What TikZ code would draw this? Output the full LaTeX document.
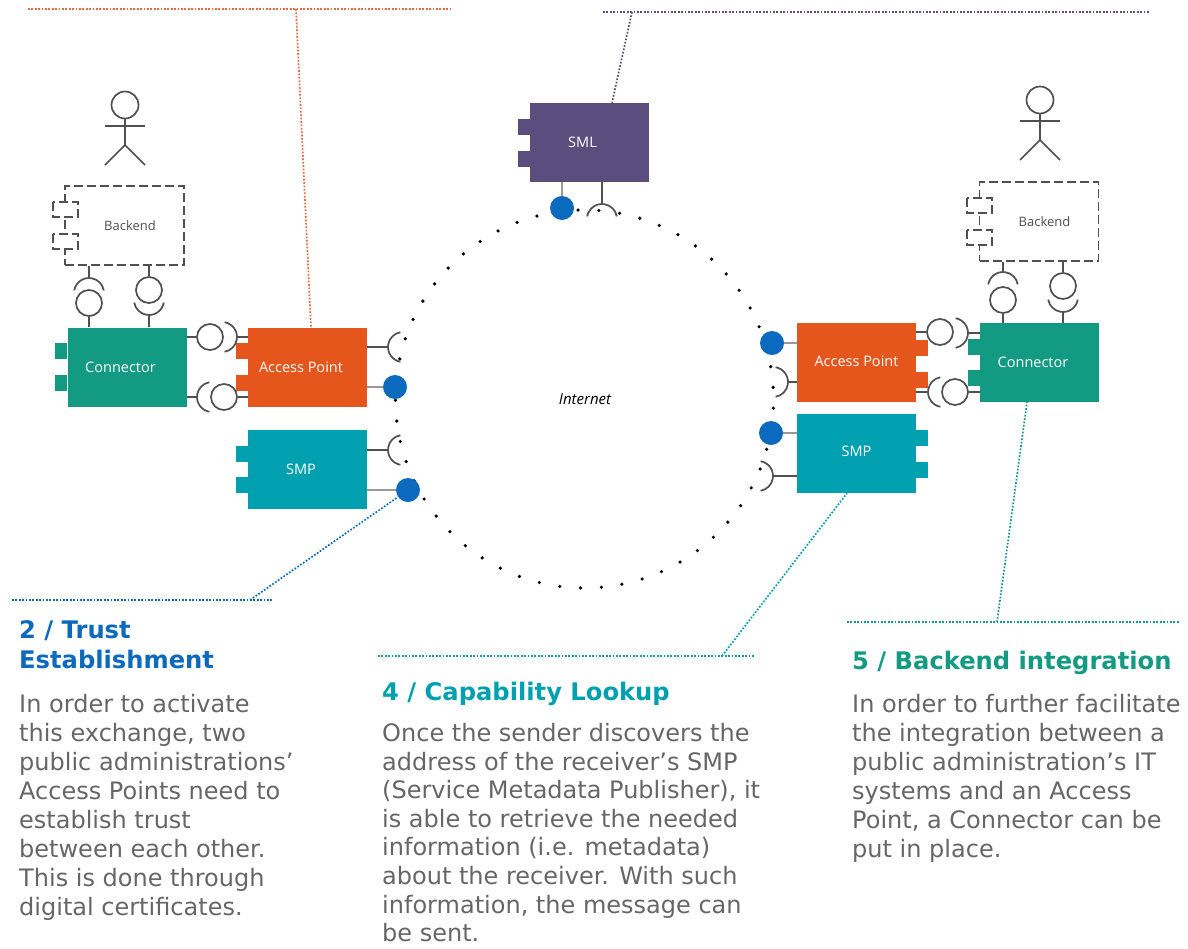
\documentclass[tikz,border=0pt]{standalone}
\usepackage{fontspec}
\setmainfont{DejaVu Sans}
\newfontfamily\labelfont{Open Sans}
\definecolor{greenc}{HTML}{129B82}
\definecolor{orangec}{HTML}{E4561C}
\definecolor{tealc}{HTML}{00A0B0}
\definecolor{purplec}{HTML}{5B4E7E}
\definecolor{bluec}{HTML}{0B6ABE}
\definecolor{redc}{HTML}{F0653C}
\definecolor{bodyc}{HTML}{666666}
\definecolor{wirec}{HTML}{505050}
\tikzset{
 comp/.style={minimum width=119,minimum height=79,inner sep=0,text=white,font=\labelfont\fontsize{14.5}{16}\selectfont},
 textleft/.style={execute at end node=\hspace{13pt}},
 backend/.style={draw=wirec,line width=1.5,dash pattern=on 9pt off 4pt,minimum width=119,minimum height=79,inner sep=0,text=wirec,font=\labelfont\fontsize{13}{14}\selectfont,execute at begin node=\hspace{11pt}},
 wire/.style={wirec,line width=1.7},
 stem/.style={black!40,line width=1.2},
 ball/.style={circle,draw=wirec,fill=white,line width=1.7,minimum size=26,inner sep=0},
 port/.style={circle,fill=bluec,minimum size=24,inner sep=0},
 dotline/.style={line width=1.7,dash pattern=on 1.7pt off 1.7pt},
 head/.style={anchor=north west,inner sep=0,align=left,font=\bfseries\fontsize{24.2}{30}\selectfont},
 body/.style={anchor=north west,inner sep=0,align=left,text=bodyc,font=\fontsize{24}{29}\selectfont},
}
\begin{document}
\begin{tikzpicture}[x=1pt,y=-1pt]
\useasboundingbox (0,0) rectangle (1188,948);
% ring
\foreach \k in {0,...,56} {
 \fill[black] (584.5,399) ++({91.2+\k*6.316}:189) circle (1.8pt);
}
\node[inner sep=0,font=\labelfont\itshape\fontsize{15}{16}\selectfont] (internet) at (585,399) {Internet};
% tabs
\foreach \x/\y/\c in {55/343/greenc, 55/375/greenc, 236/343/orangec, 236/375/orangec, 236/446/tealc, 236/477/tealc,
 518/119/purplec, 518/151/purplec, 916/340/orangec, 916/372/orangec, 916/430/tealc, 916/462/tealc, 968/339/greenc, 968/370/greenc} {
 \fill[\c] (\x,\y) rectangle ++(12,16);
}
% components
\node[comp,textleft,fill=greenc] (conl) at (127,367) {Connector};
\node[comp,textleft,fill=orangec] (apl) at (307.5,367) {Access Point};
\node[comp,textleft,fill=tealc] (smpl) at (307.5,469) {SMP};
\node[comp,textleft,fill=purplec] (sml) at (589,142.5) {SML};
\node[comp,fill=orangec] (apr) at (856.5,362.5) {\raisebox{2pt}{Access Point}};
\node[comp,fill=tealc] (smpr) at (856.5,453.5) {\raisebox{4pt}{SMP}};
\node[comp,textleft,fill=greenc] (conr) at (1039.5,362.5) {Connector};
% backends
\node[backend] (bel) at (124.5,225.5) {Backend};
\node[backend] (ber) at (1039,221.5) {Backend};
\foreach \x/\y in {53/202, 53/234, 967/198, 967/230} {
 \draw[wirec,line width=1.5,dash pattern=on 9pt off 4pt,fill=white] (\x,\y) rectangle ++(25,15);
}
% actors
\foreach \x/\y in {125/105, 1040/100} {
 \draw[wire] (\x,\y) circle (13.5pt);
 \draw[wire] (\x-20,\y+21) --++(40,0);
 \draw[wire] (\x,\y+13.5) --++(0,26.5) --++(-20,20);
 \draw[wire] (\x,\y+40) --++(20,20);
}
% sockets
\foreach \n/\x/\y/\a in {a/89/278/-90, b/149/315/90, c/237/337/0, d/197/397/180, e/388/347/180, f/388/450/180, g/602/204/-90,
 h/788/382/0, i/773/476/0, j/968/333/0, k/928/392/180, l/1003/272/-90, m/1063/312/90} {
 \coordinate (sk\n) at (\x,\y);
 \draw[wire] (sk\n) ++(\a+180:15) ++(\a-80:15) arc[start angle=\a-80,end angle=\a+80,radius=15];
}
% interfaces
\node[ball] (b1) at (89,303) {};
\node[ball] (b2) at (149,290) {};
\node[ball] (b3) at (210,337) {};
\node[ball] (b4) at (224,397) {};
\node[ball] (b5) at (940,332) {};
\node[ball] (b6) at (955,392) {};
\node[ball] (b7) at (1003,300) {};
\node[ball] (b8) at (1063,286) {};
\draw[wire] (bel.south -| ska) -- (ska);
\draw[wire] (b1) -- (conl.north -| b1);
\draw[wire] (bel.south -| b2) -- (b2);
\draw[wire] (skb) -- (conl.north -| skb);
\draw[wire] (conl.east |- b3) -- (b3);
\draw[wire] (skc) -- (apl.west |- skc);
\draw[wire] (conl.east |- skd) -- (skd);
\draw[wire] (b4) -- (apl.west |- b4);
\draw[wire] (apr.east |- b5) -- (b5);
\draw[wire] (skj) -- (conr.west |- skj);
\draw[wire] (apr.east |- skk) -- (skk);
\draw[wire] (b6) -- (conr.west |- b6);
\draw[wire] (ber.south -| skl) -- (skl);
\draw[wire] (b7) -- (conr.north -| b7);
\draw[wire] (ber.south -| b8) -- (b8);
\draw[wire] (skm) -- (conr.north -| skm);
\draw[wire] (apl.east |- ske) -- (ske);
\draw[wire] (smpl.east |- skf) -- (skf);
\draw[wire] (sml.south -| skg) -- (skg);
\draw[wire] (apr.west |- skh) -- (skh);
\draw[wire] (smpr.west |- ski) -- (ski);
% ports
\node[port] (p1) at (395,387) {};
\node[port] (p2) at (408,490) {};
\node[port] (p3) at (562,208) {};
\node[port] (p4) at (772,343) {};
\node[port] (p5) at (771,433) {};
\draw[stem] (apl.east |- p1) -- (p1);
\draw[stem] (smpl.east |- p2) -- (p2);
\draw[stem] (sml.south -| p3) -- (p3);
\draw[stem] (apr.west |- p4) -- (p4);
\draw[stem] (smpr.west |- p5) -- (p5);
% callouts
\coordinate (redA) at (28,9);
\coordinate (redB) at (452,9);
\coordinate (redC) at (296,9);
\coordinate (purA) at (603,12);
\coordinate (purB) at (1150,12);
\coordinate (purC) at (632,12);
\coordinate (bluA) at (12,600);
\coordinate (bluB) at (272,600);
\coordinate (bluC) at (250,600);
\coordinate (teaA) at (378,656);
\coordinate (teaB) at (755,656);
\coordinate (teaC) at (722,656);
\coordinate (greA) at (847,622);
\coordinate (greB) at (1180,622);
\coordinate (greC) at (997,622);
\draw[dotline,redc] (redA) -- (redB);
\draw[dotline,redc] (redC) -- ([xshift=3.5]apl.north);
\draw[dotline,purplec] (purA) -- (purB);
\draw[dotline,purplec] (purC) -- ([xshift=23]sml.north);
\draw[dotline,bluec] (bluA) -- (bluB);
\draw[dotline,bluec] (bluC) -- (p2);
\draw[dotline,tealc] (teaA) -- (teaB);
\draw[dotline,tealc] (teaC) -- ([xshift=-9.5]smpr.south);
\draw[dotline,greenc] (greA) -- (greB);
\draw[dotline,greenc] (greC) -- ([xshift=-12.5]conr.south);
% texts
\node[head,text=bluec] (h2) at (19,620) {2 / Trust\\Establishment};
\node[head,text=tealc] (h4) at (382,682) {4 / Capability Lookup};
\node[head,text=greenc] (h5) at (852,651) {5 / Backend integration};
\node[body] (t2) at (19,694) {In order to activate\\this exchange, two\\public administrations’\\Access Points need to\\establish trust\\between each other.\\This is done through\\digital certificates.};
\node[body,font=\fontsize{24}{28.6}\selectfont] (t4) at (382,723) {Once the sender discovers the\\address of the receiver’s SMP\\(Service Metadata Publisher), it\\is able to retrieve the needed\\information (i.e. metadata)\\about the receiver. With such\\information, the message can\\be sent.};
\node[body] (t5) at (852,694) {In order to further facilitate\\the integration between a\\public administration’s IT\\systems and an Access\\Point, a Connector can be\\put in place.};
\end{tikzpicture}
\end{document}
